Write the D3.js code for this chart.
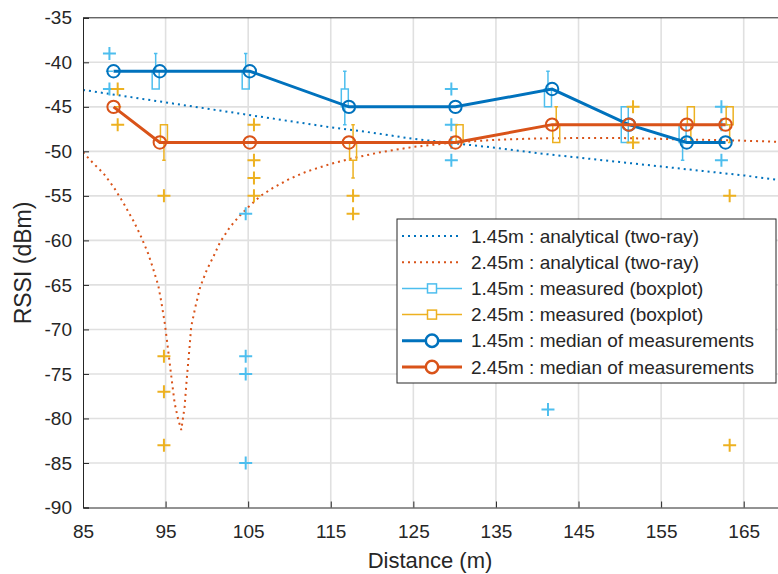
<!DOCTYPE html>
<html><head><meta charset="utf-8">
<script src="https://cdn.jsdelivr.net/npm/d3@7"></script>
<style>
body{margin:0;background:#fff;}
text{font-family:"Liberation Sans",Arial,Helvetica,sans-serif;fill:#262626;}
</style>
</head><body>
<svg id="chart" width="778" height="574"></svg>
<script>
// ---------- data ----------
const distances = [88.7, 94.3, 105.2, 117.2, 130.1, 141.8, 151.1, 158.1, 162.8];
const median145 = [-41, -41, -41, -45, -45, -43, -47, -49, -49];
const median245 = [-45, -49, -49, -49, -49, -47, -47, -47, -47];
// boxplot stats per distance: [lowerWhisker, q1, median, q3, upperWhisker]
const box145 = [
  [-41,-41,-41,-41,-41],[-43,-43,-41,-41,-39],[-43,-43,-41,-41,-39],
  [-47,-45,-45,-43,-41],[-45,-45,-45,-45,-45],[-45,-45,-43,-43,-41],
  [-49,-49,-47,-45,-45],[-51,-49,-49,-47,-47],[-49,-49,-49,-49,-49]
];
const outliers145 = [[-39,-43],[],[-57,-73,-75,-85],[],[-43,-47,-49,-51],[-79],[],[],[-45,-47,-51]];
const box245 = [
  [-45,-45,-45,-45,-45],[-51,-49,-49,-47,-47],[-49,-49,-49,-49,-49],
  [-53,-51,-49,-49,-47],[-49,-49,-49,-47,-47],[-49,-49,-47,-47,-45],
  [-47,-47,-47,-47,-47],[-49,-47,-47,-45,-45],[-49,-47,-47,-45,-45]
];
const outliers245 = [[-43,-47],[-55,-73,-77,-83],[-47,-51,-53,-55],[-55,-57],[],[],[-45,-49],[],[-55,-83]];
const analyticDist145 = [85,90,95,100,105,110,115,120,125,130,135,140,145,150,155,160,165,170];
const analytic145 = [-43.1,-43.8,-44.5,-45.2,-45.9,-46.6,-47.3,-47.9,-48.6,-49.1,-49.6,-50.2,-50.7,-51.2,-51.7,-52.2,-52.7,-53.3];
const analyticDist245 = [85,86.2,87.5,88.7,89.9,91.1,91.9,92.9,93.5,94.1,94.5,94.9,95.2,95.5,95.8,96.1,96.5,96.9,97.3,97.55,97.9,98.1,98.6,99.2,100,100.8,101.6,102.8,104,105.2,106.5,108,110,112,115,118,121,125,130,135,140,145,150,155,160,165,170];
const analytic245 = [-50.1,-51.3,-52.5,-54.0,-55.8,-57.8,-59.3,-61.5,-63.2,-65.0,-67.0,-69.3,-71.5,-73.8,-76.1,-78.3,-80.0,-81.3,-78.7,-75.7,-72.0,-69.7,-67.5,-65.2,-63.3,-61.8,-60.2,-58.5,-57.2,-56.1,-55.0,-54.1,-53.1,-52.3,-51.4,-50.7,-50.1,-49.5,-49.0,-48.7,-48.55,-48.5,-48.5,-48.6,-48.7,-48.8,-48.95];
const xTicks = [85,95,105,115,125,135,145,155,165];
const yTicks = [-35,-40,-45,-50,-55,-60,-65,-70,-75,-80,-85,-90];
const legendLabels = ["1.45m : analytical (two-ray)","2.45m : analytical (two-ray)","1.45m : measured (boxplot)","2.45m : measured (boxplot)","1.45m : median of measurements","2.45m : median of measurements"];

// ---------- styles ----------
const C = {blue:"#0072BD", orange:"#D95319", lblue:"#4DBEEE", yellow:"#EDB120", grid:"#e0e0e0", axis:"#262626"};
const L = 83, R = 785, T = 17.8, B = 507.5;
const boxOffset = 0.5, boxW = 7, capW = 3.5;

const svg = d3.select("#chart");
const x = d3.scaleLinear().domain([85,170]).range([L,R]);
const y = d3.scaleLinear().domain([-90,-35]).range([B,T]);

svg.append("defs").append("clipPath").attr("id","clip")
  .append("rect").attr("x",L).attr("y",T).attr("width",R-L).attr("height",B-T);

// grid
const g = svg.append("g");
g.selectAll(".gx").data(xTicks.slice(1)).join("line")
  .attr("x1",d=>x(d)).attr("x2",d=>x(d)).attr("y1",T).attr("y2",B)
  .attr("stroke",C.grid).attr("stroke-width",1.6);
g.selectAll(".gy").data(yTicks.slice(1,-1)).join("line")
  .attr("x1",L).attr("x2",R).attr("y1",d=>y(d)).attr("y2",d=>y(d))
  .attr("stroke",C.grid).attr("stroke-width",1.6);

const plot = svg.append("g").attr("clip-path","url(#clip)");

// analytical curves
const line = d3.line().x(d=>x(d[0])).y(d=>y(d[1]));
plot.append("path").datum(analyticDist145.map((d,i)=>[d,analytic145[i]]))
  .attr("d",line).attr("fill","none").attr("stroke",C.blue).attr("stroke-width",2).attr("stroke-dasharray","2,4");
plot.append("path").datum(analyticDist245.map((d,i)=>[d,analytic245[i]]))
  .attr("d",line).attr("fill","none").attr("stroke",C.orange).attr("stroke-width",2).attr("stroke-dasharray","2,4");

// boxplots
function drawBoxes(stats, outs, color, off){
  const gb = plot.append("g").attr("stroke",color).attr("fill","none").attr("stroke-width",1.5);
  stats.forEach((s,i)=>{
    const cx = x(distances[i]+off);
    const [lw,q1,md,q3,uw] = s;
    gb.append("path").attr("d",`M${cx-boxW/2},${y(q3)}H${cx+boxW/2}V${y(q1)}H${cx-boxW/2}Z`);
    if(uw>q3){
      gb.append("line").attr("x1",cx).attr("x2",cx).attr("y1",y(q3)).attr("y2",y(uw));
      gb.append("line").attr("x1",cx-capW/2).attr("x2",cx+capW/2).attr("y1",y(uw)).attr("y2",y(uw));
    }
    if(lw<q1){
      gb.append("line").attr("x1",cx).attr("x2",cx).attr("y1",y(q1)).attr("y2",y(lw));
      gb.append("line").attr("x1",cx-capW/2).attr("x2",cx+capW/2).attr("y1",y(lw)).attr("y2",y(lw));
    }
    outs[i].forEach(o=>{
      gb.append("path").attr("d",`M${cx-6.5},${y(o)}H${cx+6.5}M${cx},${y(o)-6.5}V${y(o)+6.5}`).attr("stroke-width",2);
    });
  });
}
drawBoxes(box145, outliers145, C.lblue, -boxOffset);
drawBoxes(box245, outliers245, C.yellow, boxOffset);

// median lines
function drawMedian(vals, color){
  const pts = distances.map((d,i)=>[d,vals[i]]);
  plot.append("path").datum(pts).attr("d",line).attr("fill","none").attr("stroke",color).attr("stroke-width",3);
  plot.append("g").selectAll("circle").data(pts).join("circle")
    .attr("cx",d=>x(d[0])).attr("cy",d=>y(d[1])).attr("r",6.2)
    .attr("fill","none").attr("stroke",color).attr("stroke-width",2);
}
drawMedian(median145, C.blue);
drawMedian(median245, C.orange);

// axes
svg.append("line").attr("x1",L).attr("x2",R).attr("y1",T).attr("y2",T).attr("stroke",C.axis).attr("stroke-width",1);
const xAxis = d3.axisBottom(x).tickValues(xTicks).tickSize(-6).tickPadding(17).tickFormat(d3.format("d"));
const gx = svg.append("g").attr("transform",`translate(0,${B})`).call(xAxis);
const yAxis = d3.axisLeft(y).tickValues(yTicks).tickSize(-6).tickPadding(11);
const gy = svg.append("g").attr("transform",`translate(${L},0)`).call(yAxis);
[gx,gy].forEach(a=>{
  a.select(".domain").attr("stroke",C.axis).attr("stroke-width",1);
  a.selectAll(".tick line").attr("stroke",C.axis);
  a.selectAll(".tick text").style("font-size","19px").attr("fill",C.axis);
});
gy.selectAll(".tick text").text(d=>String(d));

svg.append("text").attr("x",430).attr("y",568).attr("text-anchor","middle").style("font-size","22px").text("Distance (m)");
svg.append("text").attr("transform","translate(31,263) rotate(-90)").attr("text-anchor","middle").style("font-size","23px").text("RSSI (dBm)");

// legend
const lg = svg.append("g");
lg.append("rect").attr("x",397).attr("y",219).attr("width",379).attr("height",164)
  .attr("fill","#fff").attr("stroke",C.axis).attr("stroke-width",1);
const rowY = i => 236 + i*26.2;
const lx0 = 402, lx1 = 462, lxm = 432;
legendLabels.forEach((lab,i)=>{
  const yy = rowY(i);
  const color = [C.blue,C.orange,C.lblue,C.yellow,C.blue,C.orange][i];
  if(i<2){
    lg.append("line").attr("x1",lx0).attr("x2",lx1).attr("y1",yy).attr("y2",yy)
      .attr("stroke",color).attr("stroke-width",2).attr("stroke-dasharray","2,4");
  } else if(i<4){
    lg.append("line").attr("x1",lx0).attr("x2",lx1).attr("y1",yy).attr("y2",yy).attr("stroke",color).attr("stroke-width",1.5);
    lg.append("rect").attr("x",lxm-4.5).attr("y",yy-4.5).attr("width",9).attr("height",9).attr("fill","#fff").attr("stroke",color).attr("stroke-width",1.5);
  } else {
    lg.append("line").attr("x1",lx0).attr("x2",lx1).attr("y1",yy).attr("y2",yy).attr("stroke",color).attr("stroke-width",3);
    lg.append("circle").attr("cx",lxm).attr("cy",yy).attr("r",6.2).attr("fill","#fff").attr("stroke",color).attr("stroke-width",2.5);
  }
  lg.append("text").attr("x",471).attr("y",yy).attr("dy","0.35em").style("font-size","19px").text(lab);
});
</script>
</body></html>
